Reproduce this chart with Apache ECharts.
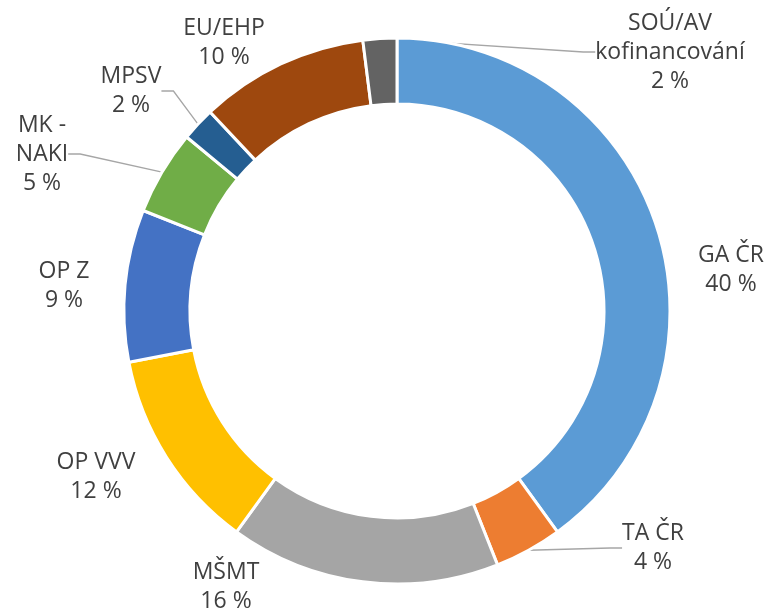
<!DOCTYPE html>
<html>
<head>
<meta charset="utf-8">
<script src="https://cdn.jsdelivr.net/npm/echarts@6/dist/echarts.min.js"></script>
<style>
  html, body { margin: 0; padding: 0; background: #fff; }
  #chart { width: 773px; height: 608px; }
</style>
</head>
<body>
<div id="chart"></div>
<script>
// data
const names = ['GA ČR', 'TA ČR', 'MŠMT', 'OP VVV', 'OP Z', 'MK -\nNAKI', 'MPSV', 'EU/EHP', 'SOÚ/AV\nkofinancování'];
const values = [40, 4, 16, 12, 9, 5, 2, 10, 2];
const colors = ['#5B9BD5', '#ED7D31', '#A5A5A5', '#FFC000', '#4472C4', '#70AD47', '#255E91', '#9E480E', '#636363'];
const withLine = [false, true, false, false, false, true, true, false, true];

// label centres (layout only)
const labelPos = [
    [731, 270], [653, 548], [226, 587], [96, 477], [64, 286],
    [42, 154], [131, 91], [224, 43], [670, 52]
];

const chart = echarts.init(document.getElementById('chart'));

const option = {
    animation: false,
    series: [{
        type: 'pie',
        center: [397, 311],
        radius: [207, 273],
        startAngle: 90,
        clockwise: true,
        itemStyle: {
            borderColor: '#fff',
            borderWidth: 3
        },
        label: {
            show: true,
            position: 'outside',
            formatter: p => p.name + '\n' + p.value + ' %',
            fontFamily: 'Open Sans',
            fontSize: 23,
            lineHeight: 29,
            color: '#404040',
            align: 'center'
        },
        labelLine: {
            show: false,
            length: 15,
            length2: 12,
            lineStyle: { color: '#a6a6a6', width: 1.3 }
        },
        labelLayout: function (params) {
            const p = labelPos[params.dataIndex];
            return {
                x: p[0],
                y: p[1],
                align: 'center',
                verticalAlign: 'middle'
            };
        },
        data: names.map((n, i) => ({
            name: n,
            value: values[i],
            itemStyle: { color: colors[i] },
            labelLine: { show: withLine[i] }
        }))
    }]
};

chart.setOption(option);
</script>
</body>
</html>
